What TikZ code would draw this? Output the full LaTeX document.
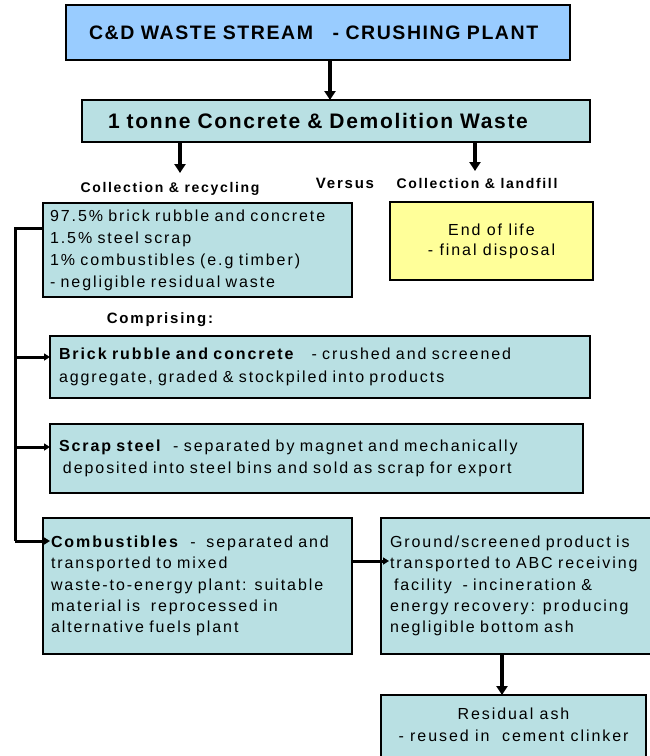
\documentclass[tikz,border=0pt]{standalone}
\usepackage{fontspec}
\setmainfont{Liberation Sans}[LetterSpace=12]
\newfontfamily\titlefont{Liberation Sans}[LetterSpace=8]
\newfontfamily\lblfont{Liberation Sans}[LetterSpace=12]
\usetikzlibrary{arrows.meta}
\definecolor{topblue}{HTML}{99CCFF}
\definecolor{boxcyan}{HTML}{B9E0E3}
\definecolor{boxyellow}{HTML}{FFFF99}
\tikzset{
  box/.style={draw=black, line width=2pt, rectangle, inner ysep=0pt, outer sep=0pt},
  body/.style={font=\fontsize{16}{22}\selectfont},
  thickarrow/.style={line width=4pt, -{Triangle[length=9pt,width=11pt]}},
  busline/.style={line width=3pt},
  busarrow/.style={line width=3pt, -{Triangle[length=6pt,width=7pt]}},
  lbl/.style={font=\lblfont\bfseries\fontsize{14}{16}\selectfont, inner sep=0pt}
}
\begin{document}
\begin{tikzpicture}[x=1pt,y=-1pt]
\useasboundingbox (0,0) rectangle (649,756);
% top box
\node[box, fill=topblue, minimum width=504, minimum height=55, inner xsep=23, text width=458, align=left,
      font=\titlefont\bfseries\fontsize{19.5}{20}\selectfont] (top) at (318,32.5) {C\&D WASTE STREAM\ \ \ - CRUSHING PLANT};
% second box
\node[box, fill=boxcyan, minimum width=508, minimum height=42, inner xsep=26, text width=456, align=left,
      font=\titlefont\bfseries\fontsize{21}{22}\selectfont] (tonne) at (336,121) {1 tonne Concrete \& Demolition Waste};
% labels
\node[lbl] (lrec) at (170,189) {Collection \& recycling};
\node[lbl, font=\lblfont\bfseries\fontsize{15}{16}\selectfont] (versus) at (345,183) {Versus};
\node[lbl] (lland) at (477,183) {Collection \& landfill};
\node[lbl, font=\lblfont\bfseries\fontsize{15}{16}\selectfont] (compr) at (160,320) {Comprising:};
\coordinate (recTip) at (180,173);
\coordinate (landTip) at (475,171);
% recycling box
\node[box, fill=boxcyan, body, minimum width=309, minimum height=94, inner xsep=7, text width=295, align=left] (rec) at (197.5,250)
 {97.5\% brick rubble and concrete\\1.5\% steel scrap\\1\% combustibles (e.g timber)\\- negligible residual waste};
% end of life
\node[box, fill=boxyellow, font=\fontsize{16}{20}\selectfont, minimum width=203, minimum height=78, align=center] (eol) at (491.5,241)
 {End of life\\- final disposal};
% brick
\node[box, fill=boxcyan, font=\fontsize{16}{23}\selectfont, minimum width=540, minimum height=62, inner xsep=9, text width=522, align=left] (brick) at (320,367)
 {\textbf{Brick rubble and concrete}\ \ \ - crushed and screened\\aggregate, graded \& stockpiled into products};
% scrap
\node[box, fill=boxcyan, body, minimum width=533, minimum height=69, inner xsep=9, text width=515, align=left] (scrap) at (316.5,458.5)
 {\textbf{Scrap steel}\ \ - separated by magnet and mechanically\\\hspace*{4pt}deposited into steel bins and sold as scrap for export};
% combustibles
\node[box, fill=boxcyan, font=\fontsize{16}{21.25}\selectfont, minimum width=309, minimum height=136, inner xsep=8, text width=293, align=left] (comb) at (197.5,586)
 {\textbf{Combustibles}\ \ -\ \ separated and\\transported to mixed\\waste-to-energy plant: suitable\\material is\ \ reprocessed in\\alternative fuels plant};
% ground
\node[box, fill=boxcyan, font=\fontsize{16}{21.25}\selectfont, minimum width=279, minimum height=136, inner xsep=9, text width=261, align=left] (ground) at (520.5,586)
 {Ground/screened product is\\transported to ABC receiving\\\hspace*{4pt}facility\ \ - incineration \&\\energy recovery: producing\\negligible bottom ash};
% residual
\node[box, fill=boxcyan, minimum width=265, minimum height=70] (resid) at (513.5,730) {};
\node[font=\fontsize{16}{22}\selectfont, align=center, inner sep=0pt] (residText) at (513.5,725) {Residual ash\\- reused in\ \ cement clinker};
% arrows
\draw[thickarrow] (top.south -| 330,0) -- (tonne.north -| 330,0);
\draw[thickarrow] (tonne.south -| recTip) -- (recTip);
\draw[thickarrow] (tonne.south -| landTip) -- (landTip);
\coordinate (busTop) at (15,228);
\coordinate (busBot) at (15,541);
\draw[busline] (rec.west |- busTop) -- (busTop) -- (busBot);
\draw[busarrow] (busBot) -- (50,541);
\draw[busarrow] (15,357) -- (brick.west |- 0,357);
\draw[busarrow] (15,447) -- (scrap.west |- 0,447);
\draw[busarrow] (comb.east |- 0,561) -- (389,561);
\draw[thickarrow] (ground.south -| 502,0) -- (resid.north -| 502,0);
\end{tikzpicture}
\end{document}
